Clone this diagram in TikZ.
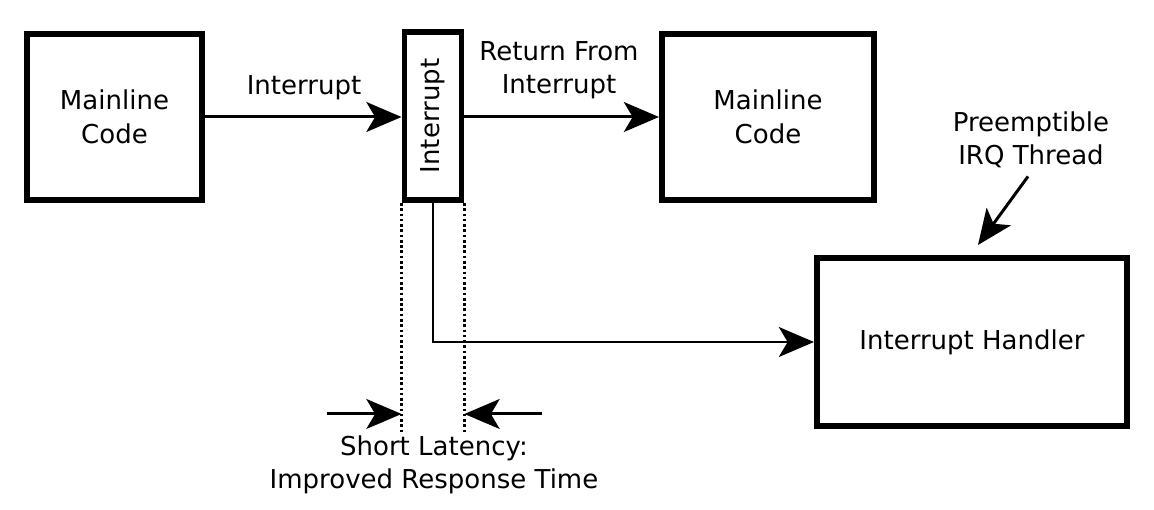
\documentclass[tikz,border=0pt]{standalone}
\usepackage{graphicx}
\usepackage{fontspec}
\setmainfont{DejaVu Sans}
\usepackage{tikz}
\usetikzlibrary{arrows.meta,calc,positioning}

\begin{document}
\begin{tikzpicture}[>={Stealth[length=20pt,width=17pt,inset=5pt]},
    font=\fontsize{14.8}{19}\selectfont,
    blk/.style={draw,line width=3.4pt,align=center,inner sep=0pt},
    conn/.style={->,line width=1.7pt},
    guide/.style={line width=1.5pt,dash pattern=on 1.5pt off 1.5pt}]
  \useasboundingbox (0,0) rectangle (23.08,-10.2);
  % ---------------- boxes ----------------------------------------------
  \node[blk,minimum width=3.5cm,minimum height=3.32cm] (main1) at (2.29,-2.34)
      {Mainline\\Code};
  \node[blk,minimum width=1.14cm,minimum height=3.36cm] (irq) at (8.66,-2.32)
      {\rotatebox{90}{Interrupt}};
  \node[blk,minimum width=4.24cm,minimum height=3.32cm] (main2) at (15.36,-2.34)
      {Mainline\\Code};
  \node[blk,minimum width=6.2cm,minimum height=3.36cm] (hdl) at (19.44,-6.84)
      {Interrupt Handler};
  % ---------------- control flow ---------------------------------------
  \draw[conn] (main1.east) -- (main1.east -| irq.west);
  \node (lirq) at (6.08,-1.76) {Interrupt};
  \draw[conn] (irq.east |- main1.east) -- (main1.east -| main2.west);
  \node[align=center] (lret) at (11.18,-1.40) {Return From\\Interrupt};
  \draw[conn] (irq.south) |- (hdl.west);
  % ---------------- latency marks --------------------------------------
  \coordinate (dl) at ($(irq.south west)+(0,-4.6)$);
  \coordinate (dr) at ($(irq.south east)+(0,-4.6)$);
  \draw[guide] (irq.south west) -- (dl);
  \draw[guide] (irq.south east) -- (dr);
  \coordinate (al) at ($(irq.south west)+(-1.5,-4.22)$);
  \coordinate (ar) at ($(irq.south east)+(1.56,-4.22)$);
  \draw[conn] (al) -- (al -| irq.south west);
  \draw[conn] (ar) -- (ar -| irq.south east);
  \node[align=center] (llat) at (8.68,-9.30)
      {Short Latency:\\Improved Response Time};
  % ---------------- thread note ----------------------------------------
  \node[align=center] (lthr) at (20.62,-2.80) {Preemptible\\IRQ Thread};
  \coordinate (tip) at (19.56,-4.90);
  \draw[conn] (lthr.south) ++(-0.06,-0.04) -- (tip);
\end{tikzpicture}
\end{document}
